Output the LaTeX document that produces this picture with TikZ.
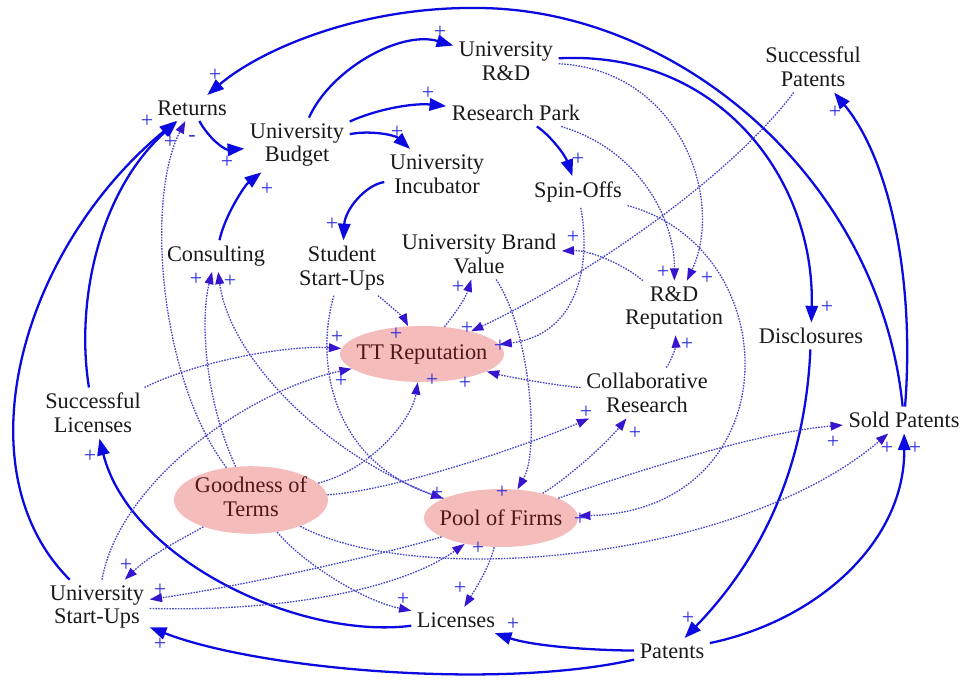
\documentclass[tikz,border=0pt]{standalone}
\usepackage{fontspec}
\setmainfont{Liberation Serif}
\usepackage{tikz}
\usetikzlibrary{arrows.meta}
\usetikzlibrary{shapes.geometric}
\usepackage{color}
\definecolor{flowblue}{RGB}{10, 10, 225}
\definecolor{linkblue}{RGB}{70, 70, 200}
\definecolor{tipblue}{RGB}{55, 20, 205}
\definecolor{signblue}{RGB}{45, 45, 220}
\definecolor{blush}{RGB}{245, 188, 188}
\definecolor{maroon}{RGB}{75, 25, 25}
\definecolor{ink}{RGB}{25, 25, 25}

\tikzset{
  var/.style     = {align=center, inner sep=3pt, text=ink, font=\rmfamily\fontsize{12.7}{13.6}\selectfont},
  loopvar/.style = {ellipse, fill=blush, inner sep=0pt, text=maroon, font=\rmfamily\fontsize{12.7}{13.6}\selectfont},
  flow/.style    = {draw=flowblue, line width=1.3pt, -{Triangle[length=9.5pt, width=7pt]}},
  link/.style    = {draw=linkblue, line width=0.75pt, dash pattern=on 0.9pt off 0.7pt,
                    -{Triangle[length=7pt, width=5pt, color=tipblue]}},
  pol/.style     = {text=signblue, inner sep=0pt, font=\rmfamily\fontsize{12.5}{13}\selectfont}
}

\begin{document}
\begin{tikzpicture}[x=0.02cm, y=-0.02cm]
    \useasboundingbox (0,0) rectangle (964,684);

    % loop variables
    \node[loopvar, minimum width=3.28cm, minimum height=1.12cm] (tt)   at (422,354) {\makebox[0pt]{TT Reputation}};
    \node[loopvar, minimum width=3.08cm, minimum height=1.30cm] (good) at (251,500) {\makebox[0pt]{\begin{tabular}{@{}c@{}}Goodness of\\Terms\end{tabular}}};
    \node[loopvar, minimum width=3.08cm, minimum height=1.16cm] (pool) at (501,518) {\makebox[0pt]{Pool of Firms}};

    % variables
    \node[var] (ret)    at (192,108) {Returns};
    \node[var] (bud)    at (297,145) {University\\Budget};
    \node[var] (rnd)    at (506,61)  {University\\R\&D};
    \node[var] (park)   at (516,113) {Research Park};
    \node[var] (inc)    at (437,174) {University\\Incubator};
    \node[var] (spin)   at (578,192) {Spin-Offs};
    \node[var] (spat)   at (813,67)  {Successful\\Patents};
    \node[var] (cons)   at (216,256) {Consulting};
    \node[var] (ssu)    at (342,268) {Student\\Start-Ups};
    \node[var] (brand)  at (479,254) {University Brand\\Value};
    \node[var] (rrep)   at (674,308) {R\&D\\Reputation};
    \node[var] (disc)   at (811,336) {Disclosures};
    \node[var] (collab) at (647,393) {Collaborative\\Research};
    \node[var] (slic)   at (93,413)  {Successful\\Licenses};
    \node[var] (sold)   at (904,420) {Sold Patents};
    \node[var] (usu)    at (97,607)  {University\\Start-Ups};
    \node[var] (lic)    at (456,620) {Licenses};
    \node[var] (pat)    at (672,651) {Patents};
    \coordinate (arctop) at (480,8);

    % solid links
    \draw[flow] (sold) .. controls (880,180) and (680,10) .. (arctop) .. controls (360,6) and (260,50) .. (ret);
    \draw[flow] (sold) .. controls (915,280) and (890,160) .. (spat);
    \draw[flow] (rnd)  .. controls (720,50)  and (815,180) .. (disc);
    \draw[flow] (disc) .. controls (805,470) and (760,560) .. (pat);
    \draw[flow] (pat)  .. controls (820,620) and (905,540) .. (sold);
    \draw[flow] (pat)  .. controls (580,650) and (530,645) .. (lic);
    \draw[flow] (pat)  .. controls (500,690) and (260,670) .. (usu);
    \draw[flow] (lic)  .. controls (300,640) and (130,560) .. (slic);
    \draw[flow] (usu)  .. controls (-40,470) and (20,250)  .. (ret);
    \draw[flow] (slic) .. controls (75,300)  and (100,190) .. (ret);
    \draw[flow] (ret)  .. controls (210,140) and (225,150) .. (bud);
    \draw[flow] (bud)  .. controls (330,70)  and (400,30)  .. (rnd);
    \draw[flow] (bud)  .. controls (380,108) and (415,103) .. (park);
    \draw[flow] (bud)  .. controls (370,130) and (395,135) .. (inc);
    \draw[flow] (park) .. controls (550,135) and (565,155) .. (spin);
    \draw[flow] (inc)  .. controls (365,185) and (345,210) .. (ssu);
    \draw[flow] (cons) .. controls (225,215) and (245,185) .. (bud);

    % dotted links
    \draw[link] (good)   .. controls (160,380) and (145,200) .. (ret);
    \draw[link] (good)   .. controls (205,400) and (200,320) .. (cons);
    \draw[link] (pool)   .. controls (330,460) and (230,360) .. (cons);
    \draw[link] (ssu)    .. controls (315,360) and (330,460) .. (pool);
    \draw[link] (ssu)    .. controls (390,305) and (405,320) .. (tt);
    \draw[link] (tt)     .. controls (450,320) and (465,300) .. (brand);
    \draw[link] (rrep)   .. controls (625,265) and (590,250) .. (brand);
    \draw[link] (collab) .. controls (672,360) and (676,345) .. (rrep);
    \draw[link] (collab) .. controls (550,385) and (500,375) .. (tt);
    \draw[link] (spin)   .. controls (592,270) and (575,335) .. (tt);
    \draw[link] (spat)   .. controls (720,190) and (560,290) .. (tt);
    \draw[link] (park)   .. controls (640,150) and (675,220) .. (rrep);
    \draw[link] (rnd)    .. controls (680,70)  and (725,200) .. (rrep);
    \draw[link] (spin)   .. controls (790,250) and (790,510) .. (pool);
    \draw[link] (pool)   .. controls (640,470) and (760,432) .. (sold);
    \draw[link] (good)   .. controls (420,590) and (740,560) .. (sold);
    \draw[link] (good)   .. controls (400,490) and (540,440) .. (collab);
    \draw[link] (pool)   .. controls (565,480) and (605,445) .. (collab);
    \draw[link] (pool)   .. controls (490,565) and (478,585) .. (lic);
    \draw[link] (good)   .. controls (300,560) and (360,600) .. (lic);
    \draw[link] (good)   .. controls (180,540) and (150,555) .. (usu);
    \draw[link] (usu)    .. controls (120,480) and (250,390) .. (tt);
    \draw[link] (slic)   .. controls (200,360) and (290,345) .. (tt);
    \draw[link] (good)   .. controls (370,470) and (412,420) .. (tt);
    \draw[link] (usu)    .. controls (280,612) and (400,590) .. (pool);
    \draw[link] (pool)   .. controls (400,550) and (250,585) .. (usu);
    \draw[link] (brand)  .. controls (530,330) and (540,450) .. (pool);

    % polarities
    \foreach \px/\py [count=\k] in {215/75, 440/32, 428/93, 397/132, 147/121, 170/142, 227/162, 267/189,
                                     578/159, 332/224, 835/112, 196/279, 230/281, 458/287, 573/237, 663/272,
                                     707/278, 827/307, 687/344, 337/337, 341/381, 396/334, 467/328, 500/346,
                                     465/383, 432/380, 586/412, 635/433, 833/442, 887/448, 915/448, 90/456,
                                     437/493, 502/492, 478/548, 580/519, 126/565, 160/590, 160/644, 403/599,
                                     460/588, 513/624, 688/618}
        \node[pol] (plus\k) at (\px,\py) {+};
    \node[pol] (minus) at (192,138) {-};
\end{tikzpicture}
\end{document}
